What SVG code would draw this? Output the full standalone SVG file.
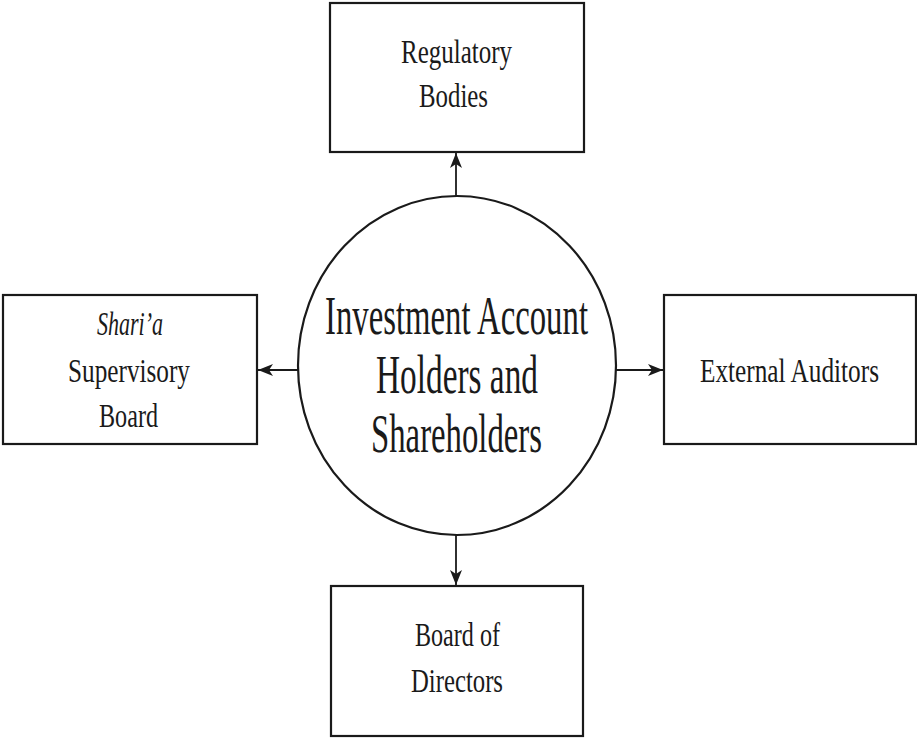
<svg xmlns="http://www.w3.org/2000/svg" width="917" height="738" viewBox="0 0 917 738">
  <style>
    .box { fill: #ffffff; stroke: #1a1a1a; stroke-width: 2.2; }
    .hub { fill: #ffffff; stroke: #1a1a1a; stroke-width: 2.2; }
    .lbl { font-family: "Liberation Serif", "Times New Roman", serif; font-size: 33px; fill: #1a1a1a; text-anchor: middle; }
    .big { font-size: 54px; }
    .it { font-style: italic; }
    .wire { stroke: #1a1a1a; stroke-width: 1.8; fill: none; marker-end: url(#tip); }
  </style>
  <defs>
    <marker id="tip" markerUnits="userSpaceOnUse" markerWidth="16" markerHeight="12" refX="15" refY="6" orient="auto">
      <path d="M0,0 L15,6 L0,12 L4,6 z" fill="#1a1a1a"/>
    </marker>
  </defs>
  <rect width="917" height="738" fill="#ffffff"/>

  <g id="connectors">
    <line class="wire" x1="456" y1="196" x2="456" y2="153"/>
    <line class="wire" x1="456" y1="535" x2="456" y2="585"/>
    <line class="wire" x1="298" y1="370" x2="258" y2="370"/>
    <line class="wire" x1="616" y1="370" x2="663" y2="370"/>
  </g>

  <g id="hub">
    <ellipse class="hub" cx="457" cy="365.5" rx="159" ry="169.5"/>
    <text class="lbl big" x="456.5" y="334" textLength="263" lengthAdjust="spacingAndGlyphs">Investment Account</text>
    <text class="lbl big" x="457" y="393" textLength="162" lengthAdjust="spacingAndGlyphs">Holders and</text>
    <text class="lbl big" x="456.5" y="452" textLength="171" lengthAdjust="spacingAndGlyphs">Shareholders</text>
  </g>

  <g id="regulatory-bodies">
    <rect class="box" x="330" y="3" width="254" height="149"/>
    <text class="lbl" x="456.5" y="63" textLength="111" lengthAdjust="spacingAndGlyphs">Regulatory</text>
    <text class="lbl" x="453.5" y="107" textLength="69" lengthAdjust="spacingAndGlyphs">Bodies</text>
  </g>

  <g id="sharia-board">
    <rect class="box" x="3" y="295" width="254" height="149"/>
    <text class="lbl it" x="130" y="335" textLength="66" lengthAdjust="spacingAndGlyphs">Shari’a</text>
    <text class="lbl" x="129" y="382" textLength="122" lengthAdjust="spacingAndGlyphs">Supervisory</text>
    <text class="lbl" x="128.5" y="427" textLength="59" lengthAdjust="spacingAndGlyphs">Board</text>
  </g>

  <g id="external-auditors">
    <rect class="box" x="664" y="295" width="252" height="149"/>
    <text class="lbl" x="789.5" y="382" textLength="179" lengthAdjust="spacingAndGlyphs">External Auditors</text>
  </g>

  <g id="board-of-directors">
    <rect class="box" x="331" y="586" width="252" height="150"/>
    <text class="lbl" x="457.5" y="646" textLength="85" lengthAdjust="spacingAndGlyphs">Board of</text>
    <text class="lbl" x="457" y="692" textLength="92" lengthAdjust="spacingAndGlyphs">Directors</text>
  </g>
</svg>
